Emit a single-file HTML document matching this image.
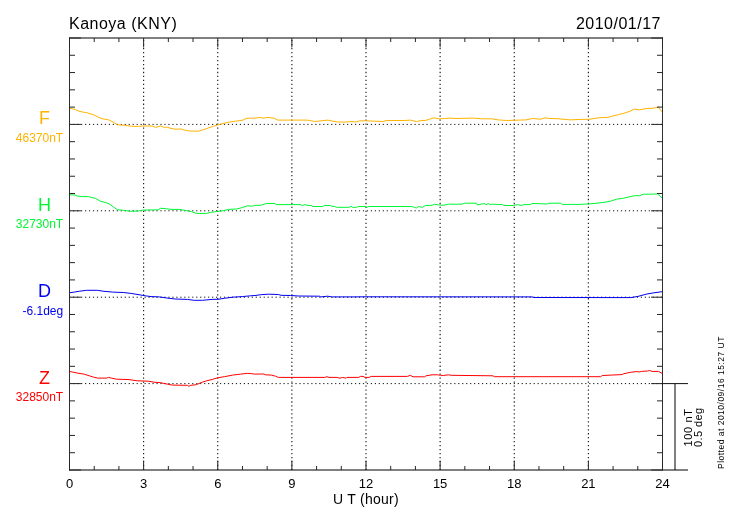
<!DOCTYPE html>
<html><head><meta charset="utf-8"><title>Kanoya (KNY) 2010/01/17</title>
<style>html,body{margin:0;padding:0;background:#fff;width:730px;height:520px;overflow:hidden}svg{display:block}</style>
</head><body>
<svg width="730" height="520" viewBox="0 0 730 520">
<rect width="730" height="520" fill="#fff"/>
<path d="M143.62 38V470M217.75 38V470M291.88 38V470M366 38V470M440.12 38V470M514.25 38V470M588.38 38V470" stroke="#111" stroke-width="1.1" stroke-dasharray="1.3 2.67" stroke-dashoffset="1.9" fill="none"/>
<path d="M69.12 124.4H662.5M69.12 210.8H662.5M69.12 297.2H662.5M69.12 383.6H662.5" stroke="#111" stroke-width="1" stroke-dasharray="1.2 2.77" fill="none"/>
<polyline points="69.4,108.2 75.6,109.6 79,111.2 83.8,112.3 86.5,112.6 90,113.7 94.8,115.3 98.9,117.4 102.3,118.8 107.1,119.5 109.8,120.3 114,122.6 117.4,124.7 124.9,125.3 131.8,126.3 138.6,126.4 144,126 152.3,126 155.7,127.4 160.5,126 164.1,127.4 166.8,127.1 171,128.4 175.1,129.2 181.2,129 184.7,130.1 189.5,131 198.4,131.2 202.5,129.9 208,128.1 213.4,126.3 217.5,124.9 223,123.6 228.5,122.2 235.3,121.2 242.2,120.3 247,118.2 254.5,118.2 259.8,117.5 263.2,118.2 268,117.4 274.2,118.2 277.6,120.1 289.2,120.1 307,120.1 309.8,120.5 314.6,121.5 319.4,121 327.6,120.1 333,121.2 337.2,121.9 344,122.2 349.5,121.6 356.8,121.9 359.6,120.8 366.4,120.8 374.7,121.2 382.9,121.5 387,120.5 404.8,120.5 410.3,120.1 416.4,121.6 421.2,120.5 425.3,120.5 429.5,119.2 434.2,117.8 439,118.9 444.5,118.5 450,118.1 456,118.5 472.4,118.1 482,118.8 491.6,118.8 498.4,119.9 506.6,120.5 513.5,120.3 525.8,119.9 532.7,118.5 540.9,119.2 545,117.8 548.9,118.5 557.8,118.7 570.3,119.9 581,119.4 588.1,119.4 598.8,117.8 607.7,117.3 613,116 618.4,114.6 623.7,113.3 629,111.6 634.4,109.2 639.7,109.8 646.9,108.4 652.2,108.4 658.4,107.1 662,111.9" stroke="#ffb300" stroke-width="1" fill="none" stroke-linejoin="round"/>
<polyline points="69.4,194.9 74.9,194.9 77,196 82.4,196.6 88.6,196.6 92,197.6 95.5,198.4 100.2,201.2 105.7,202.5 109.8,204.2 113.3,206.9 117.4,209.7 123.5,210.3 130.4,211.3 138.6,211 142.7,210.1 153.7,209.9 157.8,209.9 160.5,208.3 165.5,208.6 171,209.4 179.2,209.4 184.7,210.3 191.5,211.7 196.3,213.4 206.6,213.4 210.7,212.4 217.5,211.4 223,210.8 228.5,209.4 236.7,209 242.2,207.6 247.7,205.8 251.8,206.2 255.9,205.3 260.5,205.3 266.6,203.5 274.9,203.5 276.2,204.6 300.2,204.6 302.3,205.5 305,204.6 307.1,205.3 311.8,205.5 312.5,206.5 322.8,206.5 324.2,205.5 330.3,205.5 331.7,206.2 334.5,206.5 336.5,207.3 349.5,207.3 350.9,206.2 352.3,207.3 356.8,207.3 358.2,206.5 365,206.5 367.1,207.2 369.2,206.5 411.6,206.5 414.4,207.3 416.4,208 418.5,206.6 422.6,207.3 425.3,205.5 432.2,205.3 434.2,204.2 438.4,204.9 443.2,205.3 448.6,204.2 461.4,204.2 464.9,203.2 476.5,203.2 477.2,204.9 484.7,203.5 486.1,204.9 488.2,203.5 490.2,204.6 492.3,204.2 502.5,204.6 503.9,205.5 513.5,205.5 517.6,204.6 521.7,205.5 523.8,204.6 530.6,204.6 532,203.5 540,203.7 547.1,204 548.9,203.2 560.5,203.2 562.3,204.4 579.2,204.4 588.1,204 597,203.2 604.1,202.3 611.2,201 616.6,199.2 623.7,198.2 629,196.9 634.4,195.7 639.7,195.7 643.3,194.2 650.4,194.2 657.5,193.9 662,197.8" stroke="#00f533" stroke-width="1" fill="none" stroke-linejoin="round"/>
<polyline points="69.4,292.8 74.2,292.1 79.7,291.2 86.5,290.3 97.5,290.3 103,291.2 112.6,292.1 123.5,292.5 131.8,293.5 140,294.9 145.5,295.8 151,296.6 159.2,296.9 166.8,298 175.1,299 187.4,299.4 194.2,300.3 202.5,300.3 212.1,299.4 218.9,299.2 224.4,298.3 232.6,297.2 242.2,296.6 250.4,295.8 255,295.5 261.8,294.6 268.7,294.2 278.3,294.5 281,295.3 290.6,295.5 298.8,296 319.4,296.2 320.8,296.9 327.6,296.2 331.7,296.9 355,296.9 365,296.8 532,296.9 534,297.5 630.8,297.6 638,296.4 646.9,294 654,292.8 662,291.7" stroke="#0000f0" stroke-width="1" fill="none" stroke-linejoin="round"/>
<polyline points="69.4,371.4 72.8,372.1 77,373 83.8,374.1 89.3,375.8 93.4,377.1 97.5,378.1 106.4,378.1 108.5,377.4 111.2,378.1 116.7,379.2 129,379.6 137.2,380.8 148.2,381.2 155,382.3 160,382.6 166.8,384 172.3,385.1 187.4,385.3 188.8,386.3 190.8,385.3 196.3,384.7 201.1,382.6 206.6,380.8 212.1,379.5 217.5,377.8 224.4,376.7 232.6,375.1 240.8,374.1 247.7,373.3 251.8,373.7 254.5,374.1 263.9,374 265.3,374.8 271.4,375.1 275.5,376.2 278.3,377.4 324.9,377.4 326.9,376.7 329,377.4 337.2,377.4 339.9,378.2 342.7,377.4 346.1,378.2 346.8,377.4 358.9,377.4 360.3,376.4 363,376.4 365,377.4 369.2,377.4 371.2,376.4 407.5,376.4 410.3,375.3 413,376.8 424.7,376.8 426,375.8 432.2,374.8 437.7,374.8 440.4,375.3 443.2,375.5 448.6,374.8 451.2,375.3 493,375.8 494.3,376.7 545,376.7 600.6,376.7 602.3,375.5 611.2,375.1 621.9,374.6 623.7,373.7 630.8,372.3 636.2,371.6 639.7,371.9 641.5,371.4 647.7,371 649.5,370.5 652.2,371.4 658.4,371.4 662,373.3" stroke="#ff0000" stroke-width="1" fill="none" stroke-linejoin="round"/>
<path d="M69.5 37.5V470.5M662.5 37.5V470.5" stroke="#2e2e2e" stroke-width="1" fill="none"/>
<path d="M69 38H663M69 470H688" stroke="#000" stroke-width="1" fill="none"/>
<path d="M69.5 38v9.5M69.5 470v-9.5M94.21 38v4M94.21 470v-4M118.92 38v4M118.92 470v-4M143.62 38v9.5M143.62 470v-9.5M168.33 38v4M168.33 470v-4M193.04 38v4M193.04 470v-4M217.75 38v9.5M217.75 470v-9.5M242.46 38v4M242.46 470v-4M267.17 38v4M267.17 470v-4M291.88 38v9.5M291.88 470v-9.5M316.58 38v4M316.58 470v-4M341.29 38v4M341.29 470v-4M366 38v9.5M366 470v-9.5M390.71 38v4M390.71 470v-4M415.42 38v4M415.42 470v-4M440.12 38v9.5M440.12 470v-9.5M464.83 38v4M464.83 470v-4M489.54 38v4M489.54 470v-4M514.25 38v9.5M514.25 470v-9.5M538.96 38v4M538.96 470v-4M563.67 38v4M563.67 470v-4M588.38 38v9.5M588.38 470v-9.5M613.08 38v4M613.08 470v-4M637.79 38v4M637.79 470v-4M662.5 38v9.5M662.5 470v-9.5M69.5 38h11.4M662.5 38h-11.4M69.5 55.28h5.5M662.5 55.28h-5.5M69.5 72.56h5.5M662.5 72.56h-5.5M69.5 89.84h5.5M662.5 89.84h-5.5M69.5 107.12h5.5M662.5 107.12h-5.5M69.5 124.4h11.4M662.5 124.4h-11.4M69.5 141.68h5.5M662.5 141.68h-5.5M69.5 158.96h5.5M662.5 158.96h-5.5M69.5 176.24h5.5M662.5 176.24h-5.5M69.5 193.52h5.5M662.5 193.52h-5.5M69.5 210.8h11.4M662.5 210.8h-11.4M69.5 228.08h5.5M662.5 228.08h-5.5M69.5 245.36h5.5M662.5 245.36h-5.5M69.5 262.64h5.5M662.5 262.64h-5.5M69.5 279.92h5.5M662.5 279.92h-5.5M69.5 297.2h11.4M662.5 297.2h-11.4M69.5 314.48h5.5M662.5 314.48h-5.5M69.5 331.76h5.5M662.5 331.76h-5.5M69.5 349.04h5.5M662.5 349.04h-5.5M69.5 366.32h5.5M662.5 366.32h-5.5M69.5 383.6h11.4M662.5 383.6h-11.4M69.5 400.88h5.5M662.5 400.88h-5.5M69.5 418.16h5.5M662.5 418.16h-5.5M69.5 435.44h5.5M662.5 435.44h-5.5M69.5 452.72h5.5M662.5 452.72h-5.5M69.5 470h11.4M662.5 470h-11.4" stroke="#262626" stroke-width="1" fill="none"/>
<path d="M662.5 383.6H688" stroke="#111" stroke-width="1" fill="none"/>
<path d="M675 383.6V470" stroke="#000" stroke-width="1" fill="none"/>
<g style="font-family:'Liberation Sans',sans-serif" fill="#000">
<text x="69.0" y="29.0" font-size="16" letter-spacing="0.5">Kanoya (KNY)</text>
<text x="661.0" y="29.0" font-size="16" letter-spacing="0.5" text-anchor="end">2010/01/17</text>
<text x="69.5" y="488.0" font-size="13" text-anchor="middle">0</text>
<text x="143.62" y="488.0" font-size="13" text-anchor="middle">3</text>
<text x="217.75" y="488.0" font-size="13" text-anchor="middle">6</text>
<text x="291.88" y="488.0" font-size="13" text-anchor="middle">9</text>
<text x="366" y="488.0" font-size="13" text-anchor="middle">12</text>
<text x="440.12" y="488.0" font-size="13" text-anchor="middle">15</text>
<text x="514.25" y="488.0" font-size="13" text-anchor="middle">18</text>
<text x="588.38" y="488.0" font-size="13" text-anchor="middle">21</text>
<text x="662.5" y="488.0" font-size="13" text-anchor="middle">24</text>
<text x="366" y="503.8" font-size="14" letter-spacing="0.25" text-anchor="middle" xml:space="preserve">U T (hour)</text>
</g>
<g style="font-family:'Liberation Sans',sans-serif" fill="#ffb300">
<text x="44.5" y="124.4" font-size="18" text-anchor="middle">F</text>
<text x="63.2" y="142" font-size="12" text-anchor="end">46370nT</text>
</g>
<g style="font-family:'Liberation Sans',sans-serif" fill="#00f533">
<text x="44.5" y="210.8" font-size="18" text-anchor="middle">H</text>
<text x="63.2" y="228.4" font-size="12" text-anchor="end">32730nT</text>
</g>
<g style="font-family:'Liberation Sans',sans-serif" fill="#0000f0">
<text x="44.5" y="297.2" font-size="18" text-anchor="middle">D</text>
<text x="63.2" y="314.8" font-size="12" text-anchor="end">-6.1deg</text>
</g>
<g style="font-family:'Liberation Sans',sans-serif" fill="#ff0000">
<text x="44.5" y="383.6" font-size="18" text-anchor="middle">Z</text>
<text x="63.2" y="401.2" font-size="12" text-anchor="end">32850nT</text>
</g>
<g style="font-family:'Liberation Sans',sans-serif" fill="#000">
<text transform="translate(692 446.4) rotate(-90)" font-size="11" letter-spacing="0.62" xml:space="preserve">100 nT</text>
<text transform="translate(702 447) rotate(-90)" font-size="11" letter-spacing="0.4" xml:space="preserve">0.5 deg</text>
<text transform="translate(724 469) rotate(-90)" font-size="8.5" letter-spacing="0.49" xml:space="preserve">Plotted at 2010/09/16 15:27 UT</text>
</g>
</svg>
</body></html>
